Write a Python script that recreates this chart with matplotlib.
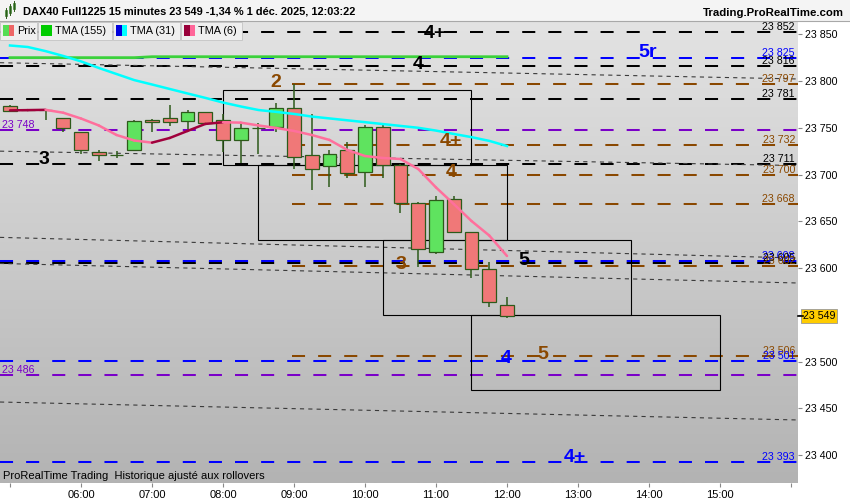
import matplotlib
matplotlib.use('agg')
import matplotlib.pyplot as plt
import matplotlib.transforms as mtransforms
import numpy as np
from matplotlib.patches import Rectangle
from matplotlib.lines import Line2D
from matplotlib.collections import LineCollection
from matplotlib.colors import LinearSegmentedColormap

plt.rcParams['font.family'] = ['Liberation Sans', 'DejaVu Sans']
plt.rcParams['lines.scale_dashes'] = False

# --- bougies 15 minutes ---
heures = ["05:00", "05:15", "05:30", "05:45", "06:00", "06:15", "06:30", "06:45",
          "07:00", "07:15", "07:30", "07:45", "08:00", "08:15", "08:30", "08:45",
          "09:00", "09:15", "09:30", "09:45", "10:00", "10:15", "10:30", "10:45",
          "11:00", "11:15", "11:30", "11:45", "12:00"]
ouvertures = [23773, 23769, 23768.5, 23760, 23745, 23724, 23720.8, 23726,
              23758.3, 23760.5, 23757, 23767, 23758.3, 23736.6, 23750, 23751.2,
              23771, 23720.6, 23709, 23726, 23703, 23750.5, 23710.2, 23669.3,
              23617.5, 23673.5, 23638.2, 23598.7, 23560]
hauts = [23774, 23770, 23769.5, 23760.5, 23745.5, 23726, 23725, 23758,
         23759.4, 23774.4, 23769, 23767.2, 23764.8, 23755.5, 23755.5, 23776.2,
         23797, 23764.8, 23726.3, 23734.8, 23753, 23753, 23711, 23670.3,
         23677, 23677, 23639, 23606, 23569]
bas = [23767, 23768, 23758, 23745, 23722, 23715, 23718, 23725.5,
       23745, 23752.2, 23748.7, 23754.5, 23724, 23712, 23721.7, 23745.8,
       23706, 23683.5, 23687, 23696.3, 23687, 23696.6, 23659.2, 23601.4,
       23615, 23637.2, 23589.7, 23558.7, 23546.3]
clotures = [23768, 23768.5, 23769, 23749.5, 23726, 23720.5, 23721.4, 23757.6,
            23756, 23756, 23766.6, 23755, 23736.6, 23750, 23749.6, 23771,
            23719, 23706.3, 23721.7, 23701.3, 23750.5, 23710.2, 23669.3, 23620.4,
            23672.8, 23639, 23598.7, 23564, 23549]

# moyennes mobiles triangulaires
tma155 = [23825, 23825, 23825, 23825, 23825, 23825, 23825, 23825,
          23826, 23826, 23826, 23826, 23826, 23826, 23826, 23826,
          23826, 23826, 23826, 23826, 23826, 23826, 23826, 23826,
          23826, 23826, 23826, 23826, 23826]
tma31 = [23838, 23836.4, 23832, 23826.8, 23821, 23814, 23807.5, 23801,
         23796.3, 23791.5, 23786.7, 23782, 23777, 23772.8, 23769, 23767,
         23764.8, 23762, 23760, 23758, 23756, 23754, 23752, 23750,
         23747, 23743.4, 23740, 23736, 23730.5]
tma6 = [23768.6, 23768.9, 23769.2, 23766.1, 23759.9, 23752.5, 23742.3, 23736.4,
        23734.1, 23739.1, 23746.6, 23754.1, 23755.9, 23755.5, 23752.5, 23749.8,
        23746.6, 23742.3, 23737.0, 23726.3, 23719.8, 23717.7, 23716.6, 23705.9,
        23686.2, 23668.5, 23650.3, 23634.8, 23612.9]

# niveaux horizontaux
niveaux = [23852, 23825, 23816, 23797, 23781, 23748, 23732, 23711, 23700,
           23668, 23608, 23605, 23602, 23506, 23501, 23486, 23393]
niveaux_type = ['noir', 'bleu', 'noir', 'brun', 'noir', 'violet', 'brun', 'noir', 'brun',
                'brun', 'bleu', 'noir', 'brun', 'brun', 'bleu', 'violet', 'bleu']

# rectangles
rect_debut = ["08:00", "08:30", "10:15", "11:30"]
rect_fin = ["11:30", "12:00", "13:45", "15:00"]
rect_haut = [23790, 23710, 23630, 23550]
rect_bas = [23710, 23630, 23550, 23470]

# droites pointillées (prix au bord gauche / bord droit)
droite_gauche = [23819.6, 23725.0, 23632.8, 23604.9, 23456.7]
droite_droite = [23802.2, 23709.6, 23610.7, 23584.0, 23437.5]

# étiquettes
etiquettes = ['3', '2', '4+', '4', '5r', '4+', '4', '3', '5', '4', '5', '4+']
etiq_heure = ["05:29", "08:45", "10:59", "10:45", "13:59", "11:13", "11:13",
              "10:30", "12:14", "11:59", "12:30", "12:57"]
etiq_prix = [23716.6, 23797.9, 23850.3, 23817.2, 23831, 23734.8, 23701.7,
             23603.3, 23607.6, 23502.8, 23507, 23396.9]
etiq_type = ['noir', 'brun', 'noir', 'noir', 'bleu', 'brun', 'brun', 'brun',
             'noir', 'bleu', 'brun', 'bleu']

dernier = 23549
titre = "DAX40 Full1225 15 minutes 23 549 -1,34 % 1 déc. 2025, 12:03:22"

couleurs = {'noir': '#000000', 'bleu': '#0000ff', 'brun': '#8a4800', 'violet': '#7a00c8'}


def hh(s):
    h, m = s.split(':')
    return int(h) + int(m) / 60


def prix_txt(v):
    return f"{int(round(v)):,}".replace(",", " ")


W, H = 850, 500
fig = plt.figure(figsize=(8.5, 5), dpi=100)
fig.patch.set_facecolor('white')
ax = fig.add_axes([0, 17 / H, 798 / W, 462 / H])

t_min, t_max = 4.859, 16.099
y_min, y_max = 23370.1, 23864.2

# fond dégradé
fond = LinearSegmentedColormap.from_list('fond', ['#e3e3e3', '#b3b3b3'])
ax.imshow(np.linspace(0, 1, 256).reshape(-1, 1), aspect='auto', cmap=fond,
          extent=[0, 1, 0, 1], transform=ax.transAxes, zorder=0)
ax.set_xlim(t_min, t_max)
ax.set_ylim(y_min, y_max)
for s in ax.spines.values():
    s.set_visible(False)

trans = mtransforms.blended_transform_factory(ax.transAxes, ax.transData)

# niveaux
for v, k in zip(niveaux, niveaux_type):
    x0 = hh("09:00") - 0.03 if k == 'brun' else t_min
    ax.plot([x0, t_max], [v, v], color=couleurs[k], lw=1.45,
            ls=(0, (9.4, 9.4)), zorder=2)
    if k == 'violet':
        ax.text(2 / 798, v, prix_txt(v), transform=trans, color=couleurs[k],
                fontsize=7.7, ha='left', va='bottom', zorder=3)
    else:
        ax.text(795 / 798, v, prix_txt(v), transform=trans, color=couleurs[k],
                fontsize=7.7, ha='right', va='bottom', zorder=3)

# droites
for p0, p1 in zip(droite_gauche, droite_droite):
    ax.plot([t_min, t_max], [p0, p1], color='#3a3a3a', lw=0.8,
            ls=(0, (3, 3)), zorder=2)

# rectangles
for d, f, hi, lo in zip(rect_debut, rect_fin, rect_haut, rect_bas):
    ax.add_patch(Rectangle((hh(d), lo), hh(f) - hh(d), hi - lo, fill=False,
                           ec='black', lw=0.8, zorder=3))

# bougies
t = np.array([hh(s) for s in heures])
o = np.array(ouvertures)
c = np.array(clotures)
hausse = c >= o
ax.vlines(t, bas, hauts, color='#2d5a1a', lw=1.1, zorder=4)
ax.bar(t, np.abs(c - o), bottom=np.minimum(o, c), width=0.195,
       color=np.where(hausse, '#5fe35f', '#f07878'), edgecolor='#2d5a1a',
       lw=0.9, zorder=5)

# moyennes
ax.plot(t, tma155, color='#3bd13b', lw=2, zorder=6)
ax.plot(t, tma31, color='#00ffff', lw=1.8, zorder=6)
seg = [[(t[i], tma6[i]), (t[i + 1], tma6[i + 1])] for i in range(len(t) - 1)]
col6 = ['#a0003c' if tma6[i + 1] >= tma6[i] else '#ff6f9c' for i in range(len(t) - 1)]
ax.add_collection(LineCollection(seg, colors=col6, linewidths=1.8, zorder=6,
                                 capstyle='round'))

# étiquettes
for txt, hr, p, k in zip(etiquettes, etiq_heure, etiq_prix, etiq_type):
    ax.text(hh(hr), p, txt, color=couleurs[k], fontsize=14, fontweight='bold',
            ha='center', va='center', zorder=7)

# axe des prix à droite
ax.yaxis.tick_right()
yt = list(range(23400, 23851, 50))
ax.set_yticks(yt)
ax.set_yticklabels(['' if v == 23550 else prix_txt(v) for v in yt])
ax.tick_params(axis='y', direction='out', length=3, color='#888888',
               labelsize=7.7, pad=2)
ax.text(1.0 + 5 / 798, dernier, prix_txt(dernier), transform=trans,
        fontsize=7.7, ha='left', va='center', clip_on=False, zorder=8,
        bbox=dict(boxstyle='square,pad=0.18', fc='#ffcc00', ec='#999999', lw=0.6))
ax.plot([1.0, 1.006], [dernier, dernier], transform=trans, color='black',
        lw=1.2, clip_on=False, zorder=8)

# axe du temps
xt = list(range(5, 17))
ax.set_xticks(xt)
ax.set_xticklabels(['' if h in (5, 16) else f"{h:02d}:00" for h in xt])
ax.tick_params(axis='x', direction='out', length=3, color='#888888',
               labelsize=8, pad=2)

ax.text(3 / 798, 0.016, "ProRealTime Trading  Historique ajusté aux rollovers",
        transform=ax.transAxes, fontsize=8,
        family=['Liberation Sans Narrow', 'Liberation Sans'], ha='left',
        va='center', zorder=8)


# --- en-tête ---
def fx(x):
    return x / W


def fy(y):
    return 1 - y / H


def boite(x0, y0, x1, y1, **kw):
    fig.add_artist(Rectangle((fx(x0), fy(y1)), fx(x1) - fx(x0), fy(y0) - fy(y1),
                             transform=fig.transFigure, **kw))


boite(0, 0, 850, 20.5, fc='#f4f4f4', ec='none')
fig.add_artist(Line2D([0, 1], [fy(20.5), fy(20.5)], color='#a8a8a8', lw=0.8,
                      transform=fig.transFigure))
# petite icône chandelier
for x0, y0, y1 in [(5, 10, 16), (9, 6, 13), (13, 3, 9)]:
    fig.add_artist(Line2D([fx(x0 + 1), fx(x0 + 1)], [fy(y0 - 2), fy(y1 + 2)],
                          color='#2d5a1a', lw=0.7, transform=fig.transFigure))
    boite(x0, y0, x0 + 2, y1, fc='#44cc44', ec='#2d5a1a', lw=0.4)
fig.text(fx(23), fy(11.5), titre, fontsize=7.9, fontweight='bold', va='center')
fig.text(fx(844), fy(12.5), "Trading.ProRealTime.com", fontsize=8.2,
         fontweight='bold', va='center', ha='right')

legende = [("Prix", 0, 37, '#55dd55', '#ee6666'),
           ("TMA (155)", 38, 112, '#00cc00', '#00cc00'),
           ("TMA (31)", 113, 180, '#0000dd', '#00ffff'),
           ("TMA (6)", 181, 242, '#99003a', '#ff6699')]
for nom, x0, x1, c1, c2 in legende:
    boite(x0, 21.5, x1, 39.5, fc='#efefef', ec='#c4c4c4', lw=0.6)
    boite(x0 + 3, 25, x0 + 8.5, 36, fc=c1, ec='none')
    boite(x0 + 8.5, 25, x0 + 14, 36, fc=c2, ec='none')
    fig.text(fx(x0 + 17), fy(30.5), nom, fontsize=7.8, va='center')

fig.savefig('out.png', dpi=100)
